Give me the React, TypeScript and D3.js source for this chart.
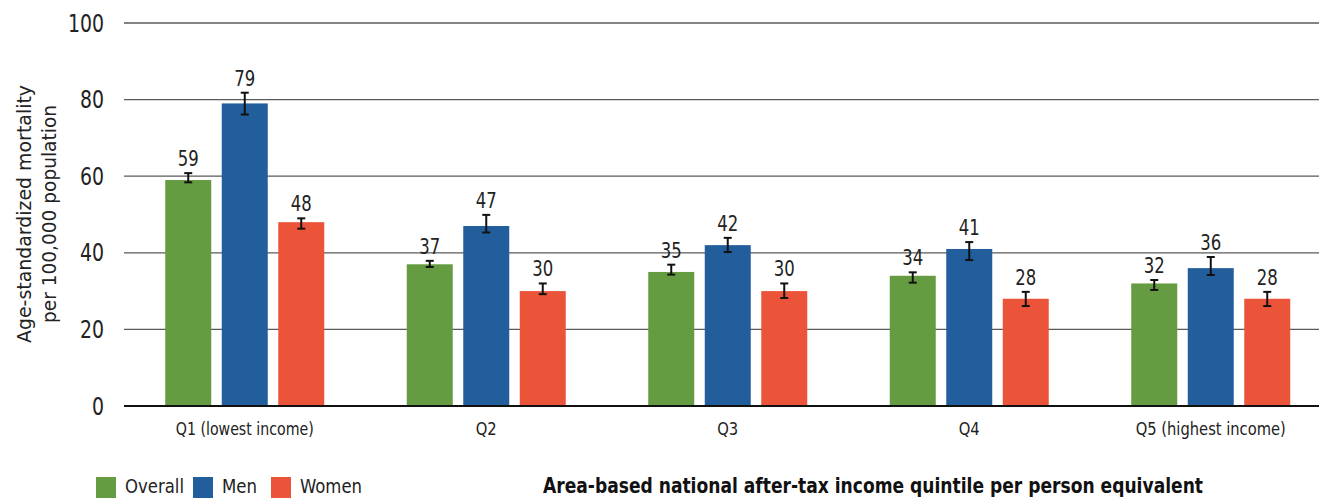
import React from "react";
import * as d3 from "d3";

const quintiles = ["Q1 (lowest income)", "Q2", "Q3", "Q4", "Q5 (highest income)"];
const seriesNames = ["Overall", "Men", "Women"];
const seriesColors = ["#659b41", "#225e9c", "#ec543a"];

const overall = [59, 37, 35, 34, 32];
const men = [79, 47, 42, 41, 36];
const women = [48, 30, 30, 28, 28];

const overallCI = [[58.4, 60.8], [36.3, 37.9], [34.3, 36.9], [32.2, 34.9], [30.3, 32.9]];
const menCI = [[76.1, 81.8], [45.3, 49.9], [40.2, 43.9], [38.1, 42.8], [34.2, 38.9]];
const womenCI = [[46.3, 49.0], [29.2, 32.0], [28.2, 32.0], [26.1, 29.8], [26.1, 29.8]];

const yTicks = [0, 20, 40, 60, 80, 100];

const W = 1319;
const H = 498;
const FONT = "'Liberation Sans Narrow', 'DejaVu Sans Condensed', 'Roboto', sans-serif";

// condensed widths for the longer labels
const categoryWidths: Record<string, number> = {
  "Q1 (lowest income)": 138,
  "Q5 (highest income)": 150,
};
const legendWidths = [59, 35, 62];
const legendX = [96, 193, 271];

export default function App() {
  const values = [overall, men, women];
  const cis = [overallCI, menCI, womenCI];

  const x0 = d3.scaleBand<string>().domain(quintiles).range([124, 1331.5]).padding(0);
  const x1 = d3.scaleBand<string>().domain(seriesNames).range([0, 159]).paddingInner(0.186).paddingOuter(0);
  const y = d3.scaleLinear().domain([0, 100]).range([406, 23]);

  const groupOffset = (x0.bandwidth() - 159) / 2;

  return (
    <svg width={W} height={H} style={{ position: "absolute", left: 0, top: 0, background: "#fff" }} fontFamily={FONT}>
      {/* gridlines */}
      {yTicks.filter((t) => t > 0).map((t) => (
        <line key={t} x1={124} x2={W} y1={y(t)} y2={y(t)} stroke="#5a5a5a" strokeWidth={1.3} />
      ))}
      {/* y tick labels */}
      {yTicks.map((t) => (
        <text key={t} x={104} y={y(t) + 8.5} textAnchor="end" fontSize={24} fill="#222"
          textLength={t === 100 ? 36 : t === 0 ? 12 : 24} lengthAdjust="spacingAndGlyphs">{t}</text>
      ))}
      {/* y axis title */}
      <g transform="translate(31,214) rotate(-90)">
        <text x={0} y={0} textAnchor="middle" fontSize={20} fill="#222" textLength={258} lengthAdjust="spacingAndGlyphs">
          Age-standardized mortality
        </text>
        <text x={0} y={25} textAnchor="middle" fontSize={20} fill="#222" textLength={218} lengthAdjust="spacingAndGlyphs">
          per 100,000 population
        </text>
      </g>
      {/* bars with confidence intervals */}
      {quintiles.map((q, qi) => (
        <g key={q} transform={`translate(${(x0(q) ?? 0) + groupOffset},0)`}>
          {seriesNames.map((s, si) => {
            const v = values[si][qi];
            const [lo, hi] = cis[si][qi];
            const bx = x1(s) ?? 0;
            const cx = bx + x1.bandwidth() / 2;
            return (
              <g key={s}>
                <rect x={bx} y={y(v)} width={x1.bandwidth()} height={y(0) - y(v)} fill={seriesColors[si]} />
                <line x1={cx} x2={cx} y1={y(hi)} y2={y(lo)} stroke="#111" strokeWidth={2} />
                <line x1={cx - 4} x2={cx + 4} y1={y(hi)} y2={y(hi)} stroke="#111" strokeWidth={2} />
                <line x1={cx - 4} x2={cx + 4} y1={y(lo)} y2={y(lo)} stroke="#111" strokeWidth={2} />
                <text x={cx} y={y(hi) - 7} textAnchor="middle" fontSize={21} fill="#222"
                  textLength={21} lengthAdjust="spacingAndGlyphs">{v}</text>
              </g>
            );
          })}
        </g>
      ))}
      {/* baseline */}
      <line x1={124} x2={W} y1={y(0)} y2={y(0)} stroke="#111" strokeWidth={2} />
      {/* category labels */}
      {quintiles.map((q) => (
        <text key={q} x={(x0(q) ?? 0) + x0.bandwidth() / 2} y={435} textAnchor="middle" fontSize={18} fill="#222"
          textLength={categoryWidths[q] ?? 21} lengthAdjust="spacingAndGlyphs">{q}</text>
      ))}
      {/* legend */}
      {seriesNames.map((s, si) => (
        <g key={s}>
          <rect x={legendX[si]} y={477} width={20} height={21} fill={seriesColors[si]} />
          <text x={legendX[si] + 29} y={493} fontSize={19} fill="#222"
            textLength={legendWidths[si]} lengthAdjust="spacingAndGlyphs">{s}</text>
        </g>
      ))}
      {/* x axis title */}
      <text x={543} y={493} fontSize={21} fontWeight="bold" fill="#111" textLength={660} lengthAdjust="spacingAndGlyphs">
        Area-based national after-tax income quintile per person equivalent
      </text>
    </svg>
  );
}
